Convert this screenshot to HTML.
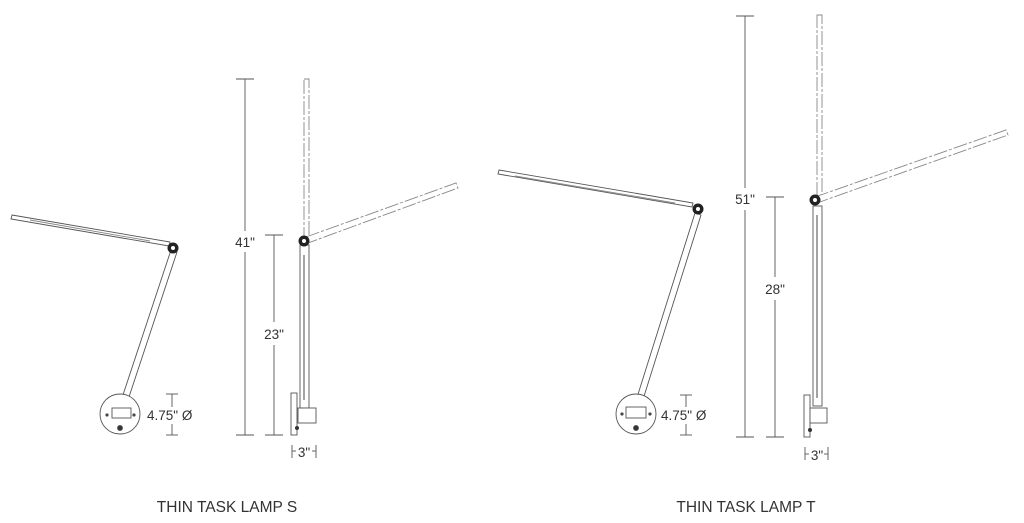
<!DOCTYPE html>
<html><head><meta charset="utf-8"><style>
html,body{margin:0;padding:0;background:#fff;}
svg{display:block}
text{font-family:"Liberation Sans",sans-serif;fill:#333}
</style></head><body>
<svg width="1024" height="523" viewBox="0 0 1024 523" xmlns="http://www.w3.org/2000/svg">
<defs>
<g id="joint"><circle r="5.5" fill="#222"/><circle r="2" fill="#fff"/></g>
</defs>
<g fill="none" stroke="#555" stroke-width="0.9">
<polygon points="12,215 170,242 169,246 11,219" fill="#fff"/>
<line x1="30" y1="220" x2="150" y2="241" stroke="#888"/>
<polygon points="171,250 177,252 125,409 119,407" fill="#fff"/>
<circle cx="120" cy="414" r="20" fill="#fff"/>
<rect x="112" y="408" width="19" height="10" fill="#fff"/>
<circle cx="107" cy="415" r="1.2" fill="#333"/>
<circle cx="134" cy="415" r="1.2" fill="#333"/>
<circle cx="120" cy="428" r="2.5" fill="#333"/>
<line x1="172" y1="394" x2="172" y2="407"/><line x1="172" y1="424" x2="172" y2="435"/>
<line x1="166" y1="394" x2="178" y2="394"/><line x1="166" y1="435" x2="178" y2="435"/>
<line x1="245" y1="79" x2="245" y2="231"/><line x1="245" y1="252" x2="245" y2="435"/>
<line x1="236" y1="79" x2="254" y2="79"/><line x1="236" y1="435" x2="254" y2="435"/>
<line x1="274" y1="235" x2="274" y2="322"/><line x1="274" y1="345" x2="274" y2="435"/>
<line x1="265" y1="235" x2="283" y2="235"/><line x1="265" y1="435" x2="283" y2="435"/>
<rect x="304" y="79" width="5" height="160" stroke="#888" stroke-dasharray="14,2,3,2" fill="#fff"/>
<rect x="300" y="245" width="9" height="163" fill="#fff"/>
<line x1="304" y1="255" x2="304" y2="400" stroke="#333"/>
<polygon points="306,237 456,183 458,188 308,243" fill="#fff" stroke="#888" stroke-dasharray="14,2,3,2"/>
<rect x="291" y="393" width="6" height="42" fill="#fff"/>
<rect x="298" y="408" width="18" height="15" fill="#fff"/>
<line x1="292" y1="445" x2="292" y2="458"/><line x1="316" y1="445" x2="316" y2="458"/>
<line x1="292" y1="451" x2="296" y2="451"/><line x1="312" y1="451" x2="316" y2="451"/>

<polygon points="499,170 693,203 692,207 498,174" fill="#fff"/>
<line x1="515" y1="176" x2="675" y2="203" stroke="#888"/>
<polygon points="695,213 701,215 640,409 634,407" fill="#fff"/>
<circle cx="636" cy="414" r="20" fill="#fff"/>
<rect x="626" y="407" width="20" height="11" fill="#fff"/>
<circle cx="622" cy="414" r="1.2" fill="#333"/>
<circle cx="650" cy="414" r="1.2" fill="#333"/>
<circle cx="636" cy="428" r="2.5" fill="#333"/>
<line x1="686" y1="395" x2="686" y2="407"/><line x1="686" y1="424" x2="686" y2="435"/>
<line x1="680" y1="395" x2="692" y2="395"/><line x1="680" y1="435" x2="692" y2="435"/>
<line x1="745" y1="16" x2="745" y2="188"/><line x1="745" y1="210" x2="745" y2="437"/>
<line x1="736" y1="16" x2="754" y2="16"/><line x1="736" y1="437" x2="754" y2="437"/>
<line x1="775" y1="197" x2="775" y2="277"/><line x1="775" y1="300" x2="775" y2="437"/>
<line x1="766" y1="197" x2="784" y2="197"/><line x1="766" y1="437" x2="784" y2="437"/>
<rect x="817" y="15" width="5" height="180" stroke="#888" stroke-dasharray="14,2,3,2" fill="#fff"/>
<rect x="813" y="206" width="9" height="200" fill="#fff"/>
<line x1="817" y1="215" x2="817" y2="398" stroke="#333"/>
<polygon points="815,197 1006,130 1008,135 817,203" fill="#fff" stroke="#888" stroke-dasharray="14,2,3,2"/>
<rect x="804" y="395" width="6" height="42" fill="#fff"/>
<rect x="810" y="408" width="17" height="15" fill="#fff"/>
<line x1="805" y1="447" x2="805" y2="460"/><line x1="828" y1="447" x2="828" y2="460"/>
<line x1="805" y1="454" x2="809" y2="454"/><line x1="824" y1="454" x2="828" y2="454"/>
</g>
<use href="#joint" x="173" y="248"/>
<use href="#joint" x="304" y="241"/>
<use href="#joint" x="698" y="209"/>
<use href="#joint" x="815" y="200"/>
<circle cx="297" cy="428" r="2" fill="#333"/>
<circle cx="810" cy="430" r="2" fill="#333"/>
<g font-size="13.5">
<text x="147" y="420">4.75" Ø</text>
<text x="661" y="420">4.75" Ø</text>
<text x="245" y="247" text-anchor="middle">41"</text>
<text x="274" y="339" text-anchor="middle">23"</text>
<text x="745" y="204" text-anchor="middle">51"</text>
<text x="775" y="294" text-anchor="middle">28"</text>
<text x="304" y="457" text-anchor="middle">3"</text>
<text x="817" y="460" text-anchor="middle">3"</text>
</g>
<g font-size="15.5">
<text x="227" y="512" text-anchor="middle">THIN TASK LAMP S</text>
<text x="746" y="512" text-anchor="middle">THIN TASK LAMP T</text>
</g>
</svg>
</body></html>
